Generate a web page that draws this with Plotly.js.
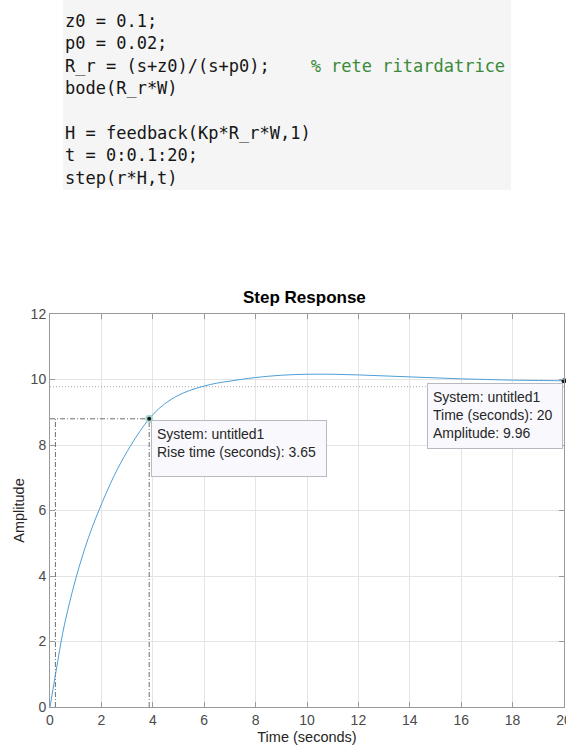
<!DOCTYPE html>
<html>
<head>
<meta charset="utf-8">
<script src="https://cdn.plot.ly/plotly-3.0.1.min.js"></script>
<style>
  html, body { margin: 0; padding: 0; background: #ffffff; }
  body { width: 566px; height: 745px; position: relative; overflow: hidden; }
  #code {
    position: absolute; left: 63px; top: 0; width: 448px; height: 190px;
    background: #f5f5f5; box-sizing: border-box;
    padding: 10px 0 0 2px; margin: 0;
    font-family: "DejaVu Sans Mono", monospace; font-size: 17px; line-height: 22.4px;
    color: #161616; white-space: pre; z-index: 2;
  }
  #code .cm { color: #3a8a3a; }
  #chart { position: absolute; left: 0; top: 0; width: 566px; height: 745px; z-index: 1; }
</style>
</head>
<body>
<pre id="code">z0 = 0.1;
p0 = 0.02;
R_r = (s+z0)/(s+p0);    <span class="cm">% rete ritardatrice</span>
bode(R_r*W)

H = feedback(Kp*R_r*W,1)
t = 0:0.1:20;
step(r*H,t)</pre>
<div id="chart"></div>
<script>
// Step response of the closed loop r*H, sampled along the curve
const timeSec = [0, 0.25, 0.5, 0.75, 1.0, 1.25, 1.5, 1.9, 2.5, 3.0, 3.5, 3.86, 4.25, 4.67, 5.0, 5.45, 6.0, 6.5, 7.0, 7.5, 8.0, 9.0, 10, 11, 12, 13, 14, 15, 16, 17, 18, 19, 20];
const amplitude = [0, 1.16, 2.28, 3.15, 3.91, 4.58, 5.18, 6.0, 7.07, 7.8, 8.42, 8.80, 9.12, 9.37, 9.52, 9.67, 9.80, 9.89, 9.95, 10.01, 10.06, 10.13, 10.16, 10.16, 10.14, 10.11, 10.08, 10.05, 10.02, 10.0, 9.98, 9.97, 9.96];

// Characteristics shown on the plot
const steadyState = 9.78;     // final value (dotted line)
const riseStart = 0.21;       // time at 10 % of final value
const riseTime = 3.65;        // rise time (seconds)
const riseEnd = riseStart + riseTime;
const riseLevel = 8.80;       // 90 % of final value
const tipTime = 20;
const tipAmplitude = 9.96;

const xTicks = [0, 2, 4, 6, 8, 10, 12, 14, 16, 18, 20];
const yTicks = [0, 2, 4, 6, 8, 10, 12];

const font = "Liberation Sans, Arial, Helvetica, sans-serif";
const refLine = { color: '#6e6e6e', width: 1, dash: '5px,2px,1px,2px' };

const traces = [
  { // steady-state value
    x: [0, tipTime], y: [steadyState, steadyState], mode: 'lines',
    line: { color: '#a8a8a8', width: 1, dash: '1px,2px' }, hoverinfo: 'skip'
  },
  { // rise time guides
    x: [0, riseEnd], y: [riseLevel, riseLevel], mode: 'lines', line: refLine, hoverinfo: 'skip'
  },
  {
    x: [riseStart, riseStart], y: [0, riseLevel], mode: 'lines', line: refLine, hoverinfo: 'skip'
  },
  {
    x: [riseEnd, riseEnd], y: [0, riseLevel], mode: 'lines', line: refLine, hoverinfo: 'skip'
  },
  { // response
    x: timeSec, y: amplitude, mode: 'lines',
    line: { color: '#4d9fd8', width: 1, shape: 'spline', smoothing: 1 }
  },
  { // rise time point
    x: [riseEnd], y: [riseLevel], mode: 'markers',
    marker: { size: 6, color: '#151515', line: { color: '#a9d8cf', width: 2 } }
  },
  { // datatip point at the end of the simulation
    x: [tipTime], y: [tipAmplitude], mode: 'markers', cliponaxis: false,
    marker: { size: 5, color: '#151515' }
  }
];

const tipStyle = {
  showarrow: false, xref: 'x', yref: 'y', align: 'left', valign: 'top',
  bgcolor: '#f9f9fd', bordercolor: '#b9b9c2', borderwidth: 1, borderpad: 5,
  font: { family: font, size: 14, color: '#262626' }
};

const layout = {
  width: 566, height: 745,
  margin: { l: 50, r: 2, t: 314, b: 38, pad: 0 },
  paper_bgcolor: '#ffffff', plot_bgcolor: '#ffffff',
  showlegend: false,
  font: { family: font, size: 14, color: '#4a4a4a' },
  title: {
    text: '<b>Step Response</b>',
    font: { family: font, size: 17, color: '#000000' },
    xref: 'paper', x: 0.495, xanchor: 'center',
    yref: 'paper', y: 1, yanchor: 'bottom', pad: { b: 11 }
  },
  xaxis: {
    range: [0, 20], tickvals: xTicks, ticktext: xTicks.map(String),
    ticklabeloverflow: 'allow',
    showgrid: true, gridcolor: '#e4e4e4', gridwidth: 1, zeroline: false,
    showline: true, linecolor: '#9a9a9a', linewidth: 1, mirror: 'ticks',
    ticks: 'inside', ticklen: 5, tickcolor: '#9a9a9a',
    tickfont: { family: font, size: 14, color: '#4a4a4a' },
    title: { text: 'Time (seconds)', font: { family: font, size: 14.5, color: '#262626' }, standoff: 8 }
  },
  yaxis: {
    range: [0, 12], tickvals: yTicks, ticktext: yTicks.map(String),
    showgrid: true, gridcolor: '#e4e4e4', gridwidth: 1, zeroline: false,
    showline: true, linecolor: '#9a9a9a', linewidth: 1, mirror: 'ticks',
    ticks: 'inside', ticklen: 5, tickcolor: '#9a9a9a',
    tickfont: { family: font, size: 14, color: '#4a4a4a' },
    title: { text: 'Amplitude', font: { family: font, size: 14.5, color: '#262626' }, standoff: 2 }
  },
  annotations: [
    Object.assign({}, tipStyle, {
      x: riseEnd, y: riseLevel, xanchor: 'left', yanchor: 'top', xshift: 2, yshift: -1,
      width: 164, height: 45,
      text: 'System: untitled1<br>Rise time (seconds): ' + riseTime.toFixed(2)
    }),
    Object.assign({}, tipStyle, {
      x: tipTime, y: tipAmplitude, xanchor: 'right', yanchor: 'top', xshift: -1, yshift: -2,
      width: 124, height: 54,
      text: 'System: untitled1<br>Time (seconds): ' + tipTime + '<br>Amplitude: ' + tipAmplitude.toFixed(2)
    })
  ]
};

Plotly.newPlot('chart', traces, layout, { staticPlot: true, displayModeBar: false });
</script>
</body>
</html>
